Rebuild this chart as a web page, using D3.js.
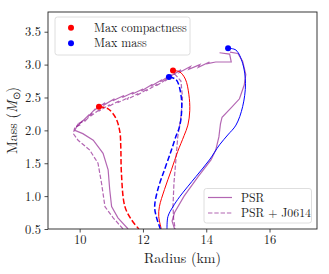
<!DOCTYPE html>
<html>
<head>
<meta charset="utf-8">
<script src="https://cdn.jsdelivr.net/npm/d3@7"></script>
<style>
  body { margin: 0; background: #fff; }
</style>
</head>
<body>
<div id="chart"></div>
<script>
// axis ticks
var xTicks = [10, 12, 14, 16];
var yTicks = [0.5, 1.0, 1.5, 2.0, 2.5, 3.0, 3.5];

// PSR credible contour (solid), [radius km, mass]
var psrLeft = [[11.53,0.5],[11.21,0.67],[11.01,0.84],[10.95,1.1],[10.9,1.4],[10.74,1.65],[10.43,1.85],[10.1,1.95],[9.85,2.0],
  [9.95,2.1],[9.9,2.05],[10.1,2.15],[10.05,2.12],[10.3,2.24],[10.25,2.2],[10.5,2.33],[10.45,2.3],[10.8,2.42],[10.75,2.38],
  [11.1,2.48],[11.05,2.45],[11.4,2.53],[11.35,2.5],[11.7,2.58],[11.65,2.55],[12.0,2.63],[11.95,2.6],[12.3,2.7],[12.25,2.67],
  [12.6,2.77],[12.55,2.74],[12.9,2.85],[12.85,2.82],[13.2,2.92],[13.15,2.88],[13.5,2.97],[13.45,2.93],[13.8,3.0],[13.75,2.96],
  [14.1,3.04],[14.0,3.01],[14.3,3.04],[14.79,3.04],[14.74,3.16],[14.42,3.18]];
var psrRight = [[13.0,0.5],[12.92,0.62],[13.0,0.75],[13.3,1.0],[13.75,1.3],[14.15,1.55],[14.3,1.7],[14.4,1.9],[14.45,2.1],
  [14.5,2.2],[14.8,2.35],[15.05,2.48],[15.2,2.69],[15.25,2.85],[15.15,3.05],[15.0,3.17],[14.75,3.19]];

// PSR + J0614 contour (dashed)
var j0614Left = [[11.37,0.5],[11.06,0.67],[10.8,0.84],[10.69,1.2],[10.58,1.5],[10.32,1.7],[9.95,1.85],[9.8,1.95],[9.85,2.05],
  [10.0,2.08],[9.95,2.1],[10.2,2.16],[10.15,2.13],[10.4,2.26],[10.35,2.22],[10.65,2.32],[10.6,2.29],[10.95,2.39],[10.9,2.36],
  [11.25,2.45],[11.2,2.42],[11.55,2.5],[11.5,2.47],[11.85,2.56],[11.8,2.53],[12.15,2.63],[12.1,2.6],[12.45,2.7],[12.4,2.67],
  [12.75,2.78],[12.7,2.75],[13.0,2.86]];
var j0614Right = [[13.0,2.86],[13.2,2.75],[13.25,2.5],[13.2,2.2],[13.1,1.9],[13.05,1.6],[12.98,1.2],[12.95,0.85],[12.97,0.65],[13.02,0.5]];

// individual EOS curves
var compactPsr = [[12.95,2.91],[13.16,2.89],[13.34,2.78],[13.45,2.55],[13.48,2.3],[13.42,2.08],[13.3,1.92],[13.1,1.68],[12.9,1.4],[12.68,1.1],[12.52,0.84],[12.5,0.69],[12.58,0.5]];
var maxMassPsr = [[14.69,3.25],[14.94,3.22],[15.15,3.02],[15.24,2.71],[15.15,2.36],[14.94,2.08],[14.68,1.93],[14.42,1.78],[14.1,1.55],[13.68,1.3],[13.16,0.99],[12.95,0.84],[12.79,0.69],[12.76,0.5]];
var compactJ = [[10.61,2.36],[10.89,2.33],[11.14,2.19],[11.27,1.98],[11.3,1.75],[11.32,1.35],[11.43,0.84],[11.64,0.64],[11.87,0.5]];
var maxMassJ = [[12.82,2.81],[13.05,2.77],[13.21,2.51],[13.21,2.21],[13.14,2.03],[13.05,1.92],[12.9,1.7],[12.68,1.4],[12.47,1.1],[12.37,0.84],[12.42,0.69],[12.55,0.5]];

var compactPoints = [[10.61,2.36],[12.95,2.91]];
var maxMassPoints = [[12.82,2.81],[14.69,3.25]];

var W = 329, H = 274;
var margin = {top: 12, right: 12, bottom: 45, left: 48};
var FONT = "'Latin Modern Roman', 'Liberation Serif', serif";

var svg = d3.select("#chart").append("svg").attr("width", W).attr("height", H);

var x = d3.scaleLinear().domain([9, 17.5]).range([margin.left, W - margin.right]);
var y = d3.scaleLinear().domain([0.5, 3.8]).range([H - margin.bottom, margin.top]);

var line = d3.line().x(d => x(d[0])).y(d => y(d[1]));
var smooth = d3.line().x(d => x(d[0])).y(d => y(d[1])).curve(d3.curveCatmullRom);

svg.append("defs").append("clipPath").attr("id", "clip")
  .append("rect").attr("x", margin.left).attr("y", margin.top)
  .attr("width", W - margin.left - margin.right).attr("height", H - margin.top - margin.bottom);
var g = svg.append("g").attr("clip-path", "url(#clip)");

var purple = "#800080";
[psrLeft, psrRight].forEach(function (d) {
  g.append("path").attr("d", line(d)).attr("fill", "none")
    .attr("stroke", purple).attr("stroke-opacity", 0.6).attr("stroke-width", 1.2);
});
[j0614Left, j0614Right].forEach(function (d) {
  g.append("path").attr("d", line(d)).attr("fill", "none")
    .attr("stroke", purple).attr("stroke-opacity", 0.6).attr("stroke-width", 1.2)
    .attr("stroke-dasharray", "4.4,1.9");
});

var curves = [
  {d: compactPsr, c: "red", dash: null},
  {d: maxMassPsr, c: "blue", dash: null},
  {d: compactJ, c: "red", dash: "5.5,2.4"},
  {d: maxMassJ, c: "blue", dash: "5.5,2.4"}
];
curves.forEach(function (o) {
  g.append("path").attr("d", smooth(o.d)).attr("fill", "none")
    .attr("stroke", o.c).attr("stroke-width", o.dash ? 1.5 : 1)
    .attr("stroke-dasharray", o.dash);
});

g.selectAll(".cp").data(compactPoints).enter().append("circle")
  .attr("cx", d => x(d[0])).attr("cy", d => y(d[1])).attr("r", 3).attr("fill", "red");
g.selectAll(".mm").data(maxMassPoints).enter().append("circle")
  .attr("cx", d => x(d[0])).attr("cy", d => y(d[1])).attr("r", 3).attr("fill", "blue");

// axes
var xAxis = svg.append("g").attr("transform", `translate(0,${H - margin.bottom})`)
  .call(d3.axisBottom(x).tickValues(xTicks).tickSize(3.5).tickPadding(2.5).tickFormat(d3.format("d")));
var yAxis = svg.append("g").attr("transform", `translate(${margin.left},0)`)
  .call(d3.axisLeft(y).tickValues(yTicks).tickSize(3.5).tickPadding(3.5).tickFormat(d3.format(".1f")));
[xAxis, yAxis].forEach(function (a) {
  a.attr("font-family", FONT).attr("font-size", 12.5);
  a.select(".domain").remove();
  a.selectAll("line").attr("stroke", "#222").attr("stroke-width", 0.8);
  a.selectAll("text").attr("fill", "#222");
});

svg.append("rect").attr("x", margin.left).attr("y", margin.top)
  .attr("width", W - margin.left - margin.right).attr("height", H - margin.top - margin.bottom)
  .attr("fill", "none").attr("stroke", "#222").attr("stroke-width", 0.9);

svg.append("text").attr("x", (margin.left + W - margin.right) / 2).attr("y", 263)
  .attr("text-anchor", "middle").attr("font-family", FONT).attr("font-size", 14).attr("fill", "#222")
  .text("Radius (km)");

var yl = svg.append("text").attr("transform", `translate(17,${(margin.top + H - margin.bottom) / 2}) rotate(-90)`)
  .attr("text-anchor", "middle").attr("font-family", FONT).attr("font-size", 14).attr("fill", "#222");
yl.append("tspan").text("Mass (");
yl.append("tspan").attr("font-style", "italic").text("M");
yl.append("tspan").attr("dy", 3).attr("font-size", 9.5).text("\u2299");
yl.append("tspan").attr("dy", -3).text(")");

// legend 1
var l1 = svg.append("g").attr("font-family", FONT).attr("font-size", 12);
l1.append("rect").attr("x", 55).attr("y", 17).attr("width", 135).attr("height", 38).attr("rx", 2.5)
  .attr("fill", "white").attr("fill-opacity", 0.8).attr("stroke", "#d6d6d6").attr("stroke-width", 0.8);
var leg1 = [{c: "red", t: "Max compactness"}, {c: "blue", t: "Max mass"}];
leg1.forEach(function (e, i) {
  l1.append("circle").attr("cx", 71).attr("cy", 27.7 + i * 15.6).attr("r", 3).attr("fill", e.c);
  l1.append("text").attr("x", 94).attr("y", 31.8 + i * 15.6).attr("fill", "#222").text(e.t);
});

// legend 2
var l2 = svg.append("g").attr("font-family", FONT).attr("font-size", 11.8);
l2.append("rect").attr("x", 204).attr("y", 188.5).attr("width", 107.5).attr("height", 34.5).attr("rx", 2.5)
  .attr("fill", "white").attr("fill-opacity", 0.8).attr("stroke", "#d6d6d6").attr("stroke-width", 0.8);
var leg2 = [{t: "PSR", dash: null}, {t: "PSR + J0614", dash: "4.4,1.9"}];
leg2.forEach(function (e, i) {
  var yy = 197.5 + i * 15.5;
  l2.append("line").attr("x1", 208).attr("x2", 232).attr("y1", yy).attr("y2", yy)
    .attr("stroke", purple).attr("stroke-opacity", 0.6).attr("stroke-width", 1.2).attr("stroke-dasharray", e.dash);
  l2.append("text").attr("x", 241).attr("y", yy + 4.1).attr("fill", "#222").text(e.t);
});
</script>
</body>
</html>
